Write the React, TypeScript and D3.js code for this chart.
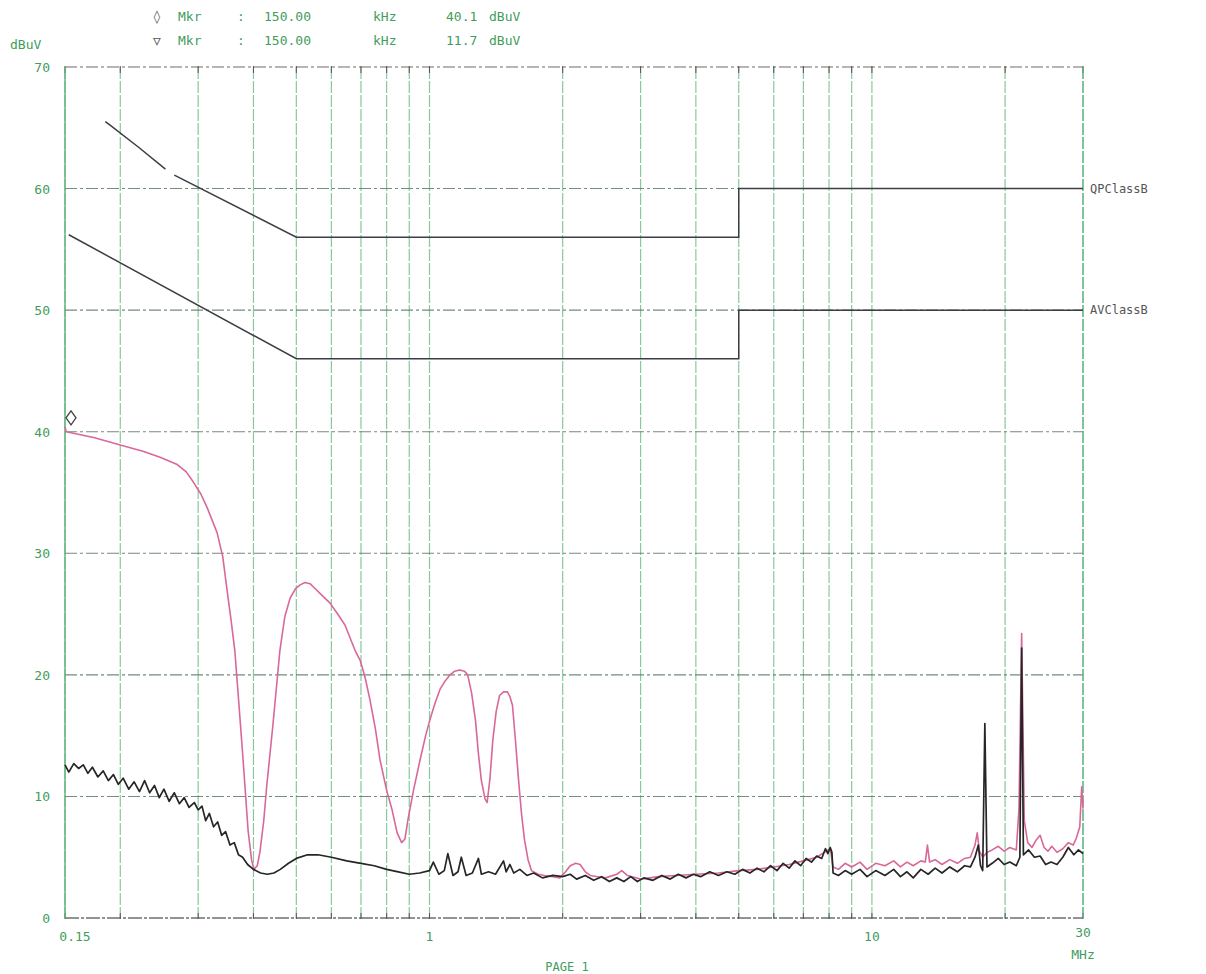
import React from "react";
import * as d3 from "d3";

// frequency in MHz, level in dBuV
const peakTrace: [number, number][] = [
  [0.15, 40.4], [0.151, 40.0], [0.175, 39.5], [0.2, 38.9], [0.225, 38.4], [0.246, 37.9],
  [0.269, 37.3], [0.282, 36.7], [0.292, 35.9], [0.304, 34.9], [0.314, 33.8], [0.331, 31.7],
  [0.341, 29.7], [0.348, 27.2], [0.356, 24.5], [0.363, 22.0], [0.371, 17.5], [0.379, 13.0],
  [0.389, 7.2], [0.396, 4.8], [0.401, 4.0], [0.408, 4.3], [0.414, 5.5], [0.422, 8.0],
  [0.429, 11.0], [0.443, 16.0], [0.459, 22.0], [0.471, 24.8], [0.484, 26.3], [0.498, 27.1],
  [0.51, 27.4], [0.523, 27.6], [0.537, 27.5], [0.551, 27.1], [0.573, 26.5], [0.596, 25.9],
  [0.62, 25.0], [0.644, 24.1], [0.679, 22.0], [0.697, 21.2], [0.715, 19.8], [0.734, 17.9],
  [0.755, 15.5], [0.773, 13.0], [0.8, 10.5], [0.823, 8.9], [0.845, 7.0], [0.865, 6.2],
  [0.88, 6.5], [0.894, 8.1], [0.92, 10.5], [0.952, 13.0], [0.98, 15.0], [1.002, 16.3],
  [1.03, 17.7], [1.056, 18.8], [1.085, 19.5], [1.113, 20.0], [1.14, 20.3], [1.17, 20.4],
  [1.2, 20.3], [1.22, 20.0], [1.245, 18.5], [1.27, 16.3], [1.29, 13.5], [1.31, 11.3],
  [1.335, 9.8], [1.35, 9.5], [1.37, 11.5], [1.39, 14.6], [1.415, 17.0], [1.44, 18.3],
  [1.47, 18.6], [1.5, 18.6], [1.52, 18.2], [1.54, 17.5], [1.565, 14.5], [1.59, 11.3],
  [1.615, 8.5], [1.64, 6.4], [1.67, 4.8], [1.7, 3.9], [1.76, 3.6], [1.82, 3.5],
  [1.9, 3.4], [1.97, 3.3], [2.03, 3.8], [2.08, 4.3], [2.14, 4.5], [2.19, 4.4],
  [2.25, 3.8], [2.31, 3.5], [2.4, 3.4], [2.5, 3.3], [2.65, 3.6], [2.72, 3.9],
  [2.8, 3.5], [3.0, 3.2], [3.3, 3.4], [3.6, 3.5], [4.0, 3.6], [4.5, 3.7],
  [5.0, 3.9], [5.5, 4.0], [6.0, 4.2], [6.5, 4.4], [7.0, 4.7], [7.5, 5.0],
  [7.8, 5.4], [8.05, 5.7], [8.17, 4.2], [8.4, 4.0], [8.7, 4.5], [9.0, 4.2],
  [9.4, 4.6], [9.75, 4.0], [10.2, 4.5], [10.7, 4.3], [11.2, 4.7], [11.6, 4.2],
  [12.0, 4.6], [12.4, 4.3], [12.9, 4.7], [13.2, 4.6], [13.35, 6.0], [13.5, 4.6],
  [13.9, 4.8], [14.4, 4.4], [15.0, 4.8], [15.6, 4.5], [16.2, 4.9], [16.7, 5.0],
  [17.1, 6.0], [17.3, 7.0], [17.5, 5.5], [17.8, 5.0], [18.2, 5.4], [18.7, 5.6],
  [19.3, 5.9], [19.9, 5.5], [20.5, 5.8], [21.2, 5.6], [21.5, 9.0], [21.8, 23.4],
  [22.1, 8.0], [22.5, 6.2], [23.0, 5.8], [23.5, 6.4], [24.0, 6.8], [24.5, 5.8],
  [25.0, 5.5], [25.5, 5.9], [26.2, 5.4], [27.0, 5.7], [27.8, 6.2], [28.5, 6.0],
  [29.0, 6.6], [29.5, 7.5], [29.8, 10.8], [30.0, 9.0],
];

const avgTrace: [number, number][] = [
  [0.15, 12.6], [0.153, 12.0], [0.157, 12.7], [0.161, 12.3], [0.165, 12.6], [0.169, 11.9],
  [0.173, 12.4], [0.178, 11.6], [0.183, 12.1], [0.188, 11.3], [0.193, 11.8], [0.198, 11.0],
  [0.203, 11.5], [0.209, 10.6], [0.215, 11.2], [0.221, 10.4], [0.227, 11.3], [0.233, 10.3],
  [0.239, 10.9], [0.245, 9.9], [0.251, 10.6], [0.258, 9.6], [0.265, 10.3], [0.272, 9.4],
  [0.279, 9.9], [0.286, 9.1], [0.294, 9.5], [0.3, 8.9], [0.306, 9.2], [0.312, 8.0],
  [0.318, 8.6], [0.325, 7.5], [0.332, 7.9], [0.339, 6.8], [0.346, 7.1], [0.354, 6.0],
  [0.362, 6.2], [0.37, 5.2], [0.378, 5.0], [0.388, 4.4], [0.4, 4.0], [0.415, 3.7],
  [0.43, 3.6], [0.445, 3.7], [0.46, 4.0], [0.48, 4.5], [0.5, 4.9], [0.53, 5.2],
  [0.56, 5.2], [0.6, 5.0], [0.65, 4.7], [0.7, 4.5], [0.75, 4.3], [0.8, 4.0],
  [0.85, 3.8], [0.9, 3.6], [0.95, 3.7], [1.0, 3.9], [1.02, 4.6], [1.05, 3.6],
  [1.08, 3.9], [1.1, 5.3], [1.13, 3.5], [1.16, 3.8], [1.18, 5.0], [1.21, 3.5],
  [1.25, 3.7], [1.29, 4.9], [1.31, 3.6], [1.36, 3.8], [1.41, 3.6], [1.47, 4.7],
  [1.49, 3.8], [1.52, 4.4], [1.55, 3.7], [1.6, 4.0], [1.66, 3.5], [1.72, 3.7],
  [1.8, 3.3], [1.9, 3.5], [2.0, 3.4], [2.08, 3.6], [2.15, 3.2], [2.25, 3.5],
  [2.35, 3.1], [2.45, 3.4], [2.55, 3.0], [2.65, 3.3], [2.75, 3.0], [2.85, 3.4],
  [2.95, 3.0], [3.05, 3.3], [3.2, 3.1], [3.35, 3.5], [3.5, 3.2], [3.65, 3.6],
  [3.8, 3.3], [3.95, 3.6], [4.1, 3.4], [4.3, 3.8], [4.5, 3.5], [4.7, 3.8],
  [4.9, 3.6], [5.1, 4.0], [5.3, 3.7], [5.5, 4.1], [5.7, 3.8], [5.9, 4.3],
  [6.1, 3.9], [6.3, 4.5], [6.5, 4.1], [6.7, 4.7], [6.9, 4.3], [7.1, 4.9],
  [7.3, 4.6], [7.5, 5.1], [7.7, 4.9], [7.85, 5.7], [7.95, 5.3], [8.05, 5.8],
  [8.12, 5.4], [8.17, 3.7], [8.4, 3.5], [8.7, 3.9], [9.0, 3.6], [9.4, 4.0],
  [9.75, 3.4], [10.2, 3.9], [10.7, 3.5], [11.2, 4.0], [11.6, 3.4], [12.0, 3.8],
  [12.4, 3.3], [12.9, 4.0], [13.4, 3.6], [13.9, 4.1], [14.4, 3.7], [15.0, 4.2],
  [15.6, 3.8], [16.2, 4.3], [16.7, 4.2], [17.1, 5.0], [17.4, 6.0], [17.6, 4.3],
  [17.8, 3.9], [18.0, 16.0], [18.2, 4.2], [18.7, 4.5], [19.3, 4.9], [19.9, 4.4],
  [20.5, 4.6], [21.2, 4.3], [21.6, 5.0], [21.8, 22.2], [22.0, 5.2], [22.6, 5.6],
  [23.3, 5.0], [24.0, 5.1], [24.7, 4.4], [25.4, 4.6], [26.2, 4.4], [27.0, 5.0],
  [27.8, 5.8], [28.6, 5.2], [29.3, 5.6], [30.0, 5.3],
];

// limit lines (NaN = gap in the plotted line)
const qpLimit: [number, number][] = [
  [0.185, 65.5], [0.19, 65.2], [0.22, 63.4], [0.253, 61.6], [0.258, NaN],
  [0.265, 61.1], [0.5, 56], [5, 56], [5, 60], [30, 60],
];
const avLimit: [number, number][] = [
  [0.153, 56.2], [0.5, 46], [5, 46], [5, 50], [30, 50],
];

const xGrid = [0.15, 0.2, 0.3, 0.4, 0.5, 0.6, 0.7, 0.8, 0.9, 1, 2, 3, 4, 5, 6, 7, 8, 9, 10, 20, 30];
const yTicks = [0, 10, 20, 30, 40, 50, 60, 70];
const xLabels: [number, string][] = [[0.15, "0.15"], [1, "1"], [10, "10"], [30, "30"]];

const W = 1206;
const H = 974;
const margin = { top: 67, right: 123, bottom: 56, left: 65 };

const green = "#3f9d5e";
const mono = "'DejaVu Sans Mono', 'Liberation Mono', monospace";

export default function App() {
  const x = d3
    .scaleLog()
    .domain([0.15, 30])
    .range([margin.left, W - margin.right]);
  const y = d3
    .scaleLinear()
    .domain([0, 70])
    .range([H - margin.bottom, margin.top]);

  const line = d3
    .line<[number, number]>()
    .defined((d) => !isNaN(d[1]))
    .x((d) => x(d[0]))
    .y((d) => y(d[1]));

  const x0 = x(0.15);
  const x1 = x(30);
  const yTop = y(70);
  const yBot = y(0);

  return (
    <svg
      width={W}
      height={H}
      style={{ position: "absolute", left: 0, top: 0, background: "#fff" }}
      fontFamily={mono}
    >
      {/* vertical grid */}
      {xGrid.map((f) => (
        <line
          key={"v" + f}
          x1={x(f)}
          x2={x(f)}
          y1={yTop}
          y2={yBot}
          stroke="#86c99d"
          strokeWidth={1.2}
          strokeDasharray="12,2"
        />
      ))}
      {/* small ticks on top/bottom border */}
      {xGrid.map((f) => (
        <g key={"t" + f}>
          <line x1={x(f)} x2={x(f)} y1={yTop - 1} y2={yTop + 6} stroke="#555" strokeWidth={1} />
          <line x1={x(f)} x2={x(f)} y1={yBot - 5} y2={yBot + 1} stroke="#555" strokeWidth={1} />
        </g>
      ))}
      {/* horizontal grid */}
      {yTicks.map((v) => (
        <line
          key={"h" + v}
          x1={x0}
          x2={x1}
          y1={y(v)}
          y2={y(v)}
          stroke={v === 0 || v === 70 ? "#555" : "#5d7a63"}
          strokeWidth={v === 0 ? 1.6 : 1.1}
          strokeDasharray={v === 0 ? "14,2,3,2" : "12,3,3,3"}
          opacity={0.85}
        />
      ))}
      {/* side borders */}
      <line x1={x0} x2={x0} y1={yTop} y2={yBot} stroke="#5fb27e" strokeWidth={1.4} />
      <line x1={x1} x2={x1} y1={yTop} y2={yBot} stroke="#5fb27e" strokeWidth={1.2} strokeDasharray="12,2" />

      {/* y labels */}
      {yTicks.map((v) => (
        <text
          key={"yl" + v}
          x={50}
          y={y(v) + 5}
          textAnchor="end"
          fontSize={13}
          fill={green}
        >
          {v}
        </text>
      ))}
      <text x={10} y={49} fontSize={13} fill={green}>dBuV</text>

      {/* x labels */}
      {xLabels.map(([f, s]) => (
        <text
          key={"xl" + s}
          x={f === 0.15 ? x(f) + 10 : x(f)}
          y={f === 30 ? yBot + 19 : yBot + 23}
          textAnchor="middle"
          fontSize={13}
          fill={green}
        >
          {s}
        </text>
      ))}
      <text x={x1} y={yBot + 41} textAnchor="middle" fontSize={13} fill={green}>MHz</text>
      <text x={567} y={971} textAnchor="middle" fontSize={12} fill={green}>PAGE 1</text>

      {/* header markers */}
      <g fontSize={13} fill={green}>
        <text x={153} y={21} fill="#555">◊</text>
        <text x={178} y={21}>Mkr</text>
        <text x={237} y={21}>:</text>
        <text x={264} y={21}>150.00</text>
        <text x={373} y={21}>kHz</text>
        <text x={446} y={21}>40.1</text>
        <text x={489} y={21}>dBuV</text>
        <text x={153} y={45} fill="#555">▽</text>
        <text x={178} y={45}>Mkr</text>
        <text x={237} y={45}>:</text>
        <text x={264} y={45}>150.00</text>
        <text x={373} y={45}>kHz</text>
        <text x={446} y={45}>11.7</text>
        <text x={489} y={45}>dBuV</text>
      </g>

      {/* limit lines */}
      <path d={line(qpLimit) ?? ""} fill="none" stroke="#3d3d45" strokeWidth={1.5} />
      <path d={line(avLimit) ?? ""} fill="none" stroke="#3d3d45" strokeWidth={1.5} />
      <text x={1090} y={y(60) + 4} fontSize={12} fill="#555">QPClassB</text>
      <text x={1090} y={y(50) + 4} fontSize={12} fill="#555">AVClassB</text>

      {/* traces */}
      <path d={line(peakTrace) ?? ""} fill="none" stroke="#d9689a" strokeWidth={1.6} strokeLinejoin="round" />
      <path d={line(avgTrace) ?? ""} fill="none" stroke="#262626" strokeWidth={1.7} strokeLinejoin="round" />

      {/* marker diamond */}
      <path
        d={`M${x(0.15) + 6},${y(40.4) - 16} l5,7 l-5,7 l-5,-7 z`}
        fill="none"
        stroke="#444"
        strokeWidth={1.3}
      />
    </svg>
  );
}
